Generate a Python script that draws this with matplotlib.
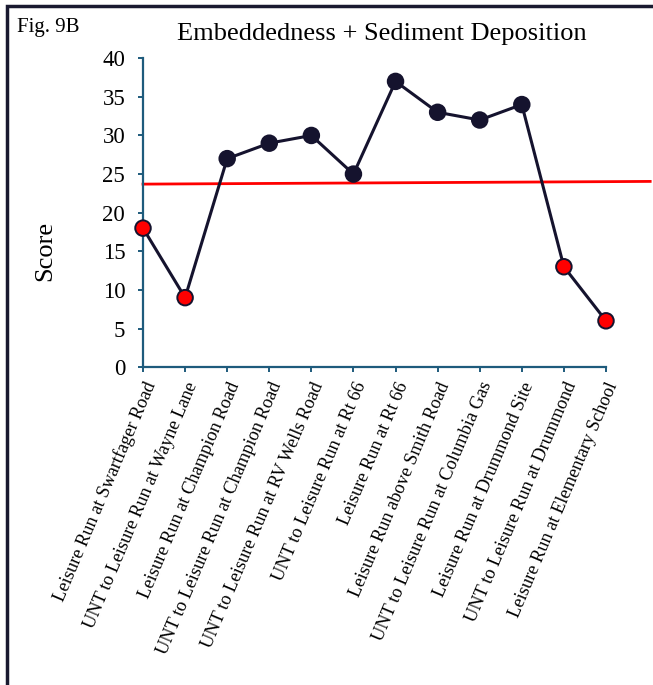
import numpy as np
import matplotlib
matplotlib.use("Agg")
import matplotlib.pyplot as plt
from matplotlib.patches import Rectangle

plt.rcParams['font.family'] = ['Liberation Serif', 'DejaVu Serif']

# sites along the stream
sites = [
    "Leisure Run at Swartfager Road",
    "UNT to Leisure Run at Wayne Lane",
    "Leisure Run at Champion Road",
    "UNT to Leisure Run at Champion Road",
    "UNT to Leisure Run at RV Wells Road",
    "UNT to Leisure Run at Rt 66",
    "Leisure Run at Rt 66",
    "Leisure Run above Smith Road",
    "UNT to Leisure Run at Columbia Gas",
    "Leisure Run at Drummond Site",
    "UNT to Leisure Run at Drummond",
    "Leisure Run at Elementary School",
]
scores = [18, 9, 27, 29, 30, 25, 37, 33, 32, 34, 13, 6]
yticks = [0, 5, 10, 15, 20, 25, 30, 35, 40]

# red reference line (starts at first site, runs past the last one)
ref_x = [0, 12.05]
ref_y = [23.7, 24.05]

navy = "#15132e"
axis_col = "#1e5b7c"

fig = plt.figure(figsize=(6.53, 6.85), dpi=100)
ax = fig.add_axes([0.219, 0.464, 0.709, 0.451])

x = np.arange(len(sites))
ax.plot(x, scores, color=navy, lw=2.2, zorder=3, clip_on=False)
face = ['red' if s < 20 else navy for s in scores]
ax.scatter(x, scores, s=125, c=face, edgecolors=navy, linewidths=1.4,
           zorder=4, clip_on=False)
ax.plot(ref_x, ref_y, color='red', lw=2, zorder=2, clip_on=False)

ax.set_xlim(0, len(sites) - 1)
ax.set_ylim(0, 40)
ax.set_yticks(yticks)
ax.set_yticklabels([str(v) for v in yticks], fontsize=16.5)
ax.set_xticks(x)
ax.set_xticklabels(sites, rotation=67, ha='right', va='top',
                   rotation_mode='anchor', fontsize=13.2)

for side in ['top', 'right']:
    ax.spines[side].set_visible(False)
for side in ['left', 'bottom']:
    ax.spines[side].set_color(axis_col)
    ax.spines[side].set_linewidth(1.6)
ax.tick_params(axis='both', direction='out', length=3.8, width=1.4,
               color=axis_col, pad=5)
ax.tick_params(axis='y', pad=9)

fig.text(0.585, 0.951, "Embeddedness + Sediment Deposition", fontsize=19,
         ha='center', va='center')
fig.text(0.026, 0.96, "Fig. 9B", fontsize=15, ha='left', va='center')
fig.text(0.069, 0.634, "Score", fontsize=19, rotation=90,
         ha='center', va='center')

fig.patches.append(Rectangle((0.011, -0.05), 1.05, 1.041,
                             transform=fig.transFigure, fill=False,
                             edgecolor='#1a1a30', lw=2.5))

fig.savefig("out.png", dpi=100)
